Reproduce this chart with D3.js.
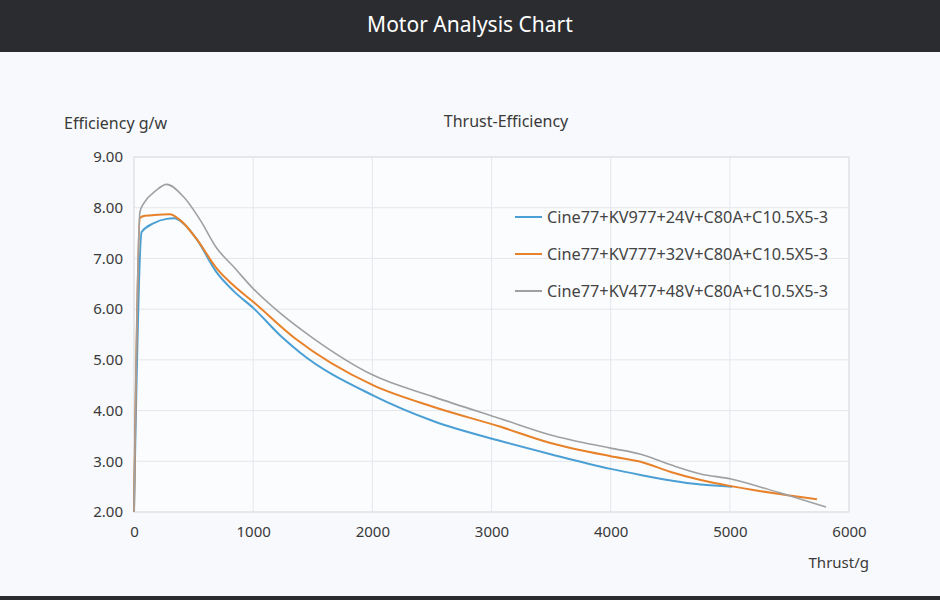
<!DOCTYPE html>
<html>
<head>
<meta charset="UTF-8">
<title>Motor Analysis Chart</title>
<script src="https://cdn.jsdelivr.net/npm/d3@7"></script>
<style>
  body { margin: 0; background: #f7f9fc; font-family: "Noto Sans", "Open Sans", sans-serif; }
  svg { display: block; }
</style>
</head>
<body>
<svg id="chart" width="940" height="600"></svg>
<script>
// series names
var seriesNames = [
    "Cine77+KV977+24V+C80A+C10.5X5-3",
    "Cine77+KV777+32V+C80A+C10.5X5-3",
    "Cine77+KV477+48V+C80A+C10.5X5-3"
];
// [thrust g, efficiency g/w]
var kv977 = [[0,2.0],[64,7.52],[162,7.69],[274,7.78],[335,7.79],[420,7.68],[526,7.38],[695,6.72],[834,6.36],[1002,6.02],[1241,5.45],[1395,5.14],[2005,4.30],[2515,3.79],[3076,3.40],[3496,3.14],[4000,2.85],[4252,2.73],[4504,2.62],[4756,2.54],[5020,2.50]];
var kv777 = [[0,2.0],[50,7.80],[92,7.84],[200,7.86],[300,7.87],[386,7.76],[526,7.38],[695,6.80],[834,6.47],[1002,6.14],[1353,5.42],[2005,4.50],[2515,4.07],[3076,3.68],[3496,3.36],[4000,3.10],[4252,2.99],[4504,2.79],[4756,2.63],[5008,2.51],[5260,2.41],[5487,2.33],[5731,2.25]];
var kv477 = [[0,2.0],[50,7.92],[92,8.12],[180,8.33],[274,8.46],[414,8.22],[555,7.76],[695,7.20],[834,6.84],[1002,6.40],[1227,5.92],[1507,5.42],[2005,4.70],[2515,4.27],[3076,3.84],[3496,3.52],[4000,3.26],[4252,3.14],[4504,2.93],[4756,2.75],[5008,2.65],[5260,2.49],[5487,2.33],[5807,2.10]];
var xTicks = [0,1000,2000,3000,4000,5000,6000];
var yTicks = [2,3,4,5,6,7,8,9];

var allSeries = [kv977, kv777, kv477];
var colors = ["#4a9fd4", "#e8822a", "#a0a0a3"];
var widths = [2, 2, 1.6];

var svg = d3.select("#chart");

// header
svg.append("rect").attr("x",0).attr("y",0).attr("width",940).attr("height",52).attr("fill","#2b2c30");
svg.append("text").attr("x",470).attr("y",32).attr("text-anchor","middle")
    .attr("fill","#fff").attr("font-size",21).text("Motor Analysis Chart");
svg.append("rect").attr("x",0).attr("y",596).attr("width",940).attr("height",4).attr("fill","#2b2c30");

var plotL = 134, plotR = 849, plotT = 157, plotB = 512;
var x = d3.scaleLinear().domain([0,6000]).range([plotL,plotR]);
var y = d3.scaleLinear().domain([2,9]).range([plotB,plotT]);

svg.append("rect").attr("x",plotL).attr("y",plotT).attr("width",plotR-plotL).attr("height",plotB-plotT)
    .attr("fill","#fbfcfe");

// grid
var grid = svg.append("g");
grid.selectAll("line.vx").data(xTicks).enter().append("line")
    .attr("x1",function(d){return x(d);}).attr("x2",function(d){return x(d);})
    .attr("y1",plotT).attr("y2",plotB).attr("stroke","#e4e7eb").attr("stroke-width",1);
grid.selectAll("line.hy").data(yTicks).enter().append("line")
    .attr("y1",function(d){return y(d);}).attr("y2",function(d){return y(d);})
    .attr("x1",plotL).attr("x2",plotR).attr("stroke","#e4e7eb").attr("stroke-width",1);
svg.append("rect").attr("x",plotL).attr("y",plotT).attr("width",plotR-plotL).attr("height",plotB-plotT)
    .attr("fill","none").attr("stroke","#dcdfe3");

// axes (labels only)
var xAxis = svg.append("g").attr("transform","translate(0,"+plotB+")")
    .call(d3.axisBottom(x).tickValues(xTicks).tickSize(0).tickPadding(14).tickFormat(d3.format("d")));
var yAxis = svg.append("g").attr("transform","translate("+plotL+",0)")
    .call(d3.axisLeft(y).tickValues(yTicks).tickSize(0).tickPadding(11).tickFormat(d3.format(".2f")));
[xAxis, yAxis].forEach(function(a){
    a.select(".domain").remove();
    a.selectAll("text").attr("font-size",15).attr("fill","#3a3a3a")
        .attr("font-family","\"Noto Sans\", sans-serif");
});

// lines
var line = d3.line()
    .x(function(d){return x(d[0]);})
    .y(function(d){return y(d[1]);})
    .curve(d3.curveMonotoneX);
svg.append("g").selectAll("path.serie").data(allSeries).enter().append("path")
    .attr("class","serie")
    .attr("fill","none")
    .attr("stroke",function(d,i){return colors[i];})
    .attr("stroke-width",function(d,i){return widths[i];})
    .attr("stroke-linejoin","round")
    .attr("d",line);

// titles
svg.append("text").attr("x",64).attr("y",129).attr("font-size",16).attr("fill","#3a3a3a").text("Efficiency g/w");
svg.append("text").attr("x",506).attr("y",127).attr("text-anchor","middle").attr("font-size",16).attr("fill","#3a3a3a").text("Thrust-Efficiency");
svg.append("text").attr("x",869).attr("y",568).attr("text-anchor","end").attr("font-size",15).attr("fill","#3a3a3a").text("Thrust/g");

// legend
var legend = svg.append("g").selectAll("g").data(seriesNames).enter().append("g")
    .attr("transform",function(d,i){return "translate(515,"+(217+i*37)+")";});
legend.append("line").attr("x1",0).attr("x2",27).attr("y1",0).attr("y2",0)
    .attr("stroke",function(d,i){return colors[i];}).attr("stroke-width",2);
legend.append("text").attr("x",32).attr("y",5.5).attr("font-size",16.3).attr("fill","#444").text(function(d){return d;});
</script>
</body>
</html>
